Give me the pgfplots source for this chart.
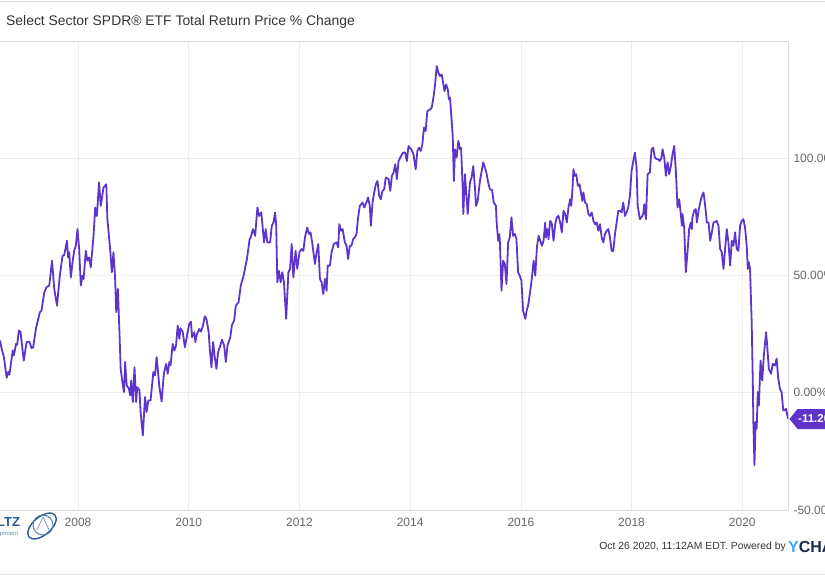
\documentclass[border=0pt]{standalone}
\usepackage{pgfplots}
\pgfplotsset{compat=1.18}
\usepackage{pgfplotstable}
\usetikzlibrary{calc}
\usepackage{fontspec}
\setmainfont{Liberation Sans}
\definecolor{lineP}{HTML}{5D35CC}
\definecolor{tickgray}{HTML}{666666}
\definecolor{titlegray}{HTML}{333333}
\definecolor{borderg}{HTML}{DADADA}
\definecolor{gridg}{HTML}{EDEDED}
\definecolor{ycblue}{HTML}{3FA9F5}
\definecolor{ycnavy}{HTML}{1B2A4A}
\definecolor{logoblue}{HTML}{2B5C98}

\pgfplotstableread{
x y
2006.59 22.3
2006.62 18.7
2006.66 15.3
2006.71 6.4
2006.74 8.9
2006.76 7.7
2006.82 18.0
2006.84 15.9
2006.88 20.8
2006.90 20.4
2006.93 26.5
2006.96 26.0
2007.02 13.7
2007.07 21.6
2007.12 21.8
2007.16 19.0
2007.19 19.4
2007.24 27.5
2007.31 34.3
2007.34 35.0
2007.39 42.8
2007.43 45.0
2007.48 45.7
2007.53 56.3
2007.57 44.3
2007.62 37.1
2007.67 49.9
2007.72 58.4
2007.75 58.7
2007.80 64.8
2007.82 57.7
2007.84 59.9
2007.87 49.2
2007.90 55.6
2007.93 60.5
2007.96 62.7
2007.99 69.8
2008.02 61.3
2008.05 45.7
2008.08 49.9
2008.10 48.5
2008.14 60.5
2008.17 56.3
2008.20 57.7
2008.23 53.5
2008.28 66.9
2008.31 79.0
2008.34 75.4
2008.38 89.7
2008.41 79.7
2008.46 87.5
2008.51 88.9
2008.53 74.0
2008.58 61.3
2008.61 51.4
2008.64 59.9
2008.67 48.5
2008.69 34.3
2008.72 44.3
2008.75 24.4
2008.77 10.2
2008.81 3.1
2008.83 0.3
2008.85 13.1
2008.88 3.1
2008.92 1.7
2008.94 -1.1
2008.96 5.2
2008.99 -4.0
2009.02 10.9
2009.05 -4.0
2009.07 2.4
2009.11 1.0
2009.13 -8.2
2009.17 -18.2
2009.21 -1.8
2009.24 -8.2
2009.27 -3.3
2009.31 -3.3
2009.36 8.8
2009.39 7.4
2009.42 15.2
2009.47 2.4
2009.51 -3.7
2009.55 8.1
2009.59 12.3
2009.62 8.1
2009.65 13.1
2009.67 11.6
2009.71 20.8
2009.74 18.0
2009.77 20.1
2009.80 28.6
2009.83 23.0
2009.85 27.5
2009.89 26.1
2009.93 19.4
2009.98 25.8
2010.01 29.4
2010.04 30.3
2010.06 23.7
2010.10 25.8
2010.12 21.6
2010.14 24.4
2010.19 27.2
2010.22 26.1
2010.25 28.0
2010.29 32.6
2010.32 31.5
2010.36 25.8
2010.38 18.7
2010.41 10.9
2010.44 21.6
2010.47 15.2
2010.50 10.2
2010.53 17.3
2010.56 19.4
2010.60 22.6
2010.64 20.1
2010.67 13.1
2010.70 20.1
2010.75 23.7
2010.78 28.9
2010.82 30.8
2010.85 37.1
2010.90 38.6
2010.94 45.7
2010.99 49.9
2011.05 57.0
2011.08 62.0
2011.10 65.5
2011.12 66.2
2011.16 69.8
2011.20 66.9
2011.24 79.0
2011.27 75.4
2011.31 76.9
2011.33 71.9
2011.36 64.1
2011.39 69.8
2011.42 64.1
2011.47 64.1
2011.50 71.2
2011.53 72.6
2011.56 76.9
2011.58 71.2
2011.60 47.1
2011.63 52.0
2011.66 47.1
2011.69 51.4
2011.72 47.1
2011.76 31.5
2011.80 51.4
2011.83 52.8
2011.86 63.4
2011.89 49.2
2011.93 60.5
2011.96 52.8
2012.00 59.9
2012.04 61.3
2012.07 60.5
2012.10 66.2
2012.14 70.5
2012.17 67.7
2012.20 68.4
2012.23 64.1
2012.28 54.9
2012.31 59.9
2012.34 63.4
2012.37 48.5
2012.40 47.1
2012.43 42.1
2012.46 48.5
2012.49 43.5
2012.51 54.2
2012.55 54.2
2012.58 59.9
2012.62 63.4
2012.67 64.1
2012.70 62.0
2012.72 71.9
2012.75 69.1
2012.78 69.8
2012.82 64.1
2012.85 62.7
2012.88 57.0
2012.91 62.7
2012.94 62.7
2012.97 65.5
2013.00 66.2
2013.03 67.7
2013.06 74.8
2013.09 79.7
2013.14 81.1
2013.17 79.0
2013.22 81.8
2013.24 83.3
2013.27 79.7
2013.29 71.2
2013.32 81.1
2013.35 85.4
2013.38 88.9
2013.41 90.3
2013.44 84.0
2013.47 82.5
2013.50 86.1
2013.53 86.8
2013.56 91.8
2013.61 91.1
2013.64 86.1
2013.67 92.5
2013.70 93.9
2013.73 97.4
2013.76 91.1
2013.79 98.8
2013.82 100.3
2013.87 102.4
2013.91 102.4
2013.94 98.8
2013.97 105.2
2014.02 103.8
2014.06 101.7
2014.10 95.3
2014.13 103.1
2014.16 104.5
2014.19 103.1
2014.22 105.9
2014.25 113.1
2014.28 111.6
2014.31 120.1
2014.36 120.8
2014.39 121.6
2014.42 125.8
2014.45 131.5
2014.48 139.3
2014.51 136.5
2014.54 135.0
2014.57 135.7
2014.60 131.5
2014.62 128.6
2014.65 131.5
2014.68 129.4
2014.70 125.1
2014.72 125.8
2014.75 115.9
2014.77 108.8
2014.79 90.3
2014.81 103.8
2014.84 100.3
2014.87 107.4
2014.90 103.8
2014.92 104.5
2014.95 86.1
2014.96 76.2
2014.99 93.2
2015.04 76.2
2015.08 89.7
2015.11 91.8
2015.14 96.7
2015.17 87.5
2015.19 79.7
2015.22 81.8
2015.26 90.3
2015.32 98.2
2015.37 94.6
2015.41 89.7
2015.44 86.8
2015.48 86.4
2015.51 81.1
2015.55 79.7
2015.56 73.3
2015.59 64.8
2015.61 67.7
2015.62 64.8
2015.65 43.5
2015.68 56.3
2015.71 54.9
2015.74 46.4
2015.77 64.1
2015.80 66.2
2015.83 74.8
2015.86 66.9
2015.89 67.7
2015.92 65.5
2015.95 51.4
2015.98 49.9
2016.01 47.8
2016.04 35.0
2016.08 31.5
2016.11 35.7
2016.13 37.1
2016.17 43.5
2016.20 49.2
2016.23 56.3
2016.26 49.9
2016.29 62.0
2016.32 66.9
2016.35 64.8
2016.38 62.7
2016.41 64.8
2016.44 72.6
2016.45 66.2
2016.48 69.8
2016.50 65.5
2016.53 73.3
2016.56 71.9
2016.59 64.8
2016.62 71.9
2016.65 74.8
2016.68 75.4
2016.71 72.6
2016.74 68.4
2016.77 77.6
2016.80 76.2
2016.83 72.6
2016.86 79.0
2016.89 82.5
2016.91 79.7
2016.93 86.1
2016.95 95.3
2016.97 92.5
2017.00 93.2
2017.03 88.2
2017.06 88.9
2017.08 86.1
2017.11 81.8
2017.13 85.4
2017.16 81.1
2017.19 80.4
2017.22 76.2
2017.25 75.4
2017.28 76.9
2017.31 73.3
2017.34 71.9
2017.37 72.6
2017.40 69.1
2017.43 71.9
2017.46 66.2
2017.49 64.1
2017.52 67.7
2017.55 69.1
2017.58 69.8
2017.61 66.2
2017.64 60.5
2017.67 60.5
2017.70 67.7
2017.73 72.6
2017.76 77.6
2017.79 77.6
2017.82 76.9
2017.85 81.1
2017.88 75.4
2017.91 76.9
2017.94 79.0
2017.97 84.0
2018.00 94.6
2018.03 98.8
2018.06 102.4
2018.09 96.0
2018.11 79.7
2018.15 74.0
2018.18 74.8
2018.21 76.2
2018.23 80.4
2018.26 74.0
2018.29 93.2
2018.33 93.9
2018.36 103.8
2018.39 104.5
2018.42 100.3
2018.45 99.6
2018.48 99.6
2018.51 98.8
2018.54 100.3
2018.56 103.8
2018.59 100.3
2018.62 92.5
2018.65 98.2
2018.68 93.2
2018.71 96.7
2018.74 101.7
2018.77 105.2
2018.80 94.6
2018.83 79.0
2018.86 82.5
2018.88 78.3
2018.91 71.2
2018.92 76.2
2018.95 70.5
2018.98 51.4
2019.01 59.9
2019.04 69.8
2019.07 72.6
2019.09 69.8
2019.10 74.8
2019.13 77.6
2019.16 78.3
2019.18 72.6
2019.21 77.6
2019.24 81.1
2019.27 84.0
2019.30 85.4
2019.33 79.7
2019.36 72.6
2019.39 72.6
2019.42 64.8
2019.45 68.4
2019.48 72.6
2019.54 73.3
2019.57 71.2
2019.60 61.3
2019.63 59.9
2019.66 52.8
2019.69 61.3
2019.72 69.8
2019.75 64.1
2019.78 54.2
2019.81 64.8
2019.84 62.7
2019.87 68.4
2019.90 61.3
2019.93 60.5
2019.96 71.2
2019.99 73.3
2020.02 74.0
2020.05 70.5
2020.08 62.7
2020.10 52.8
2020.12 55.6
2020.14 52.8
2020.17 30.1
2020.19 4.6
2020.20 -12.5
2020.22 -30.9
2020.24 -12.5
2020.26 -15.3
2020.28 0.3
2020.30 -5.4
2020.33 13.7
2020.36 5.2
2020.39 15.9
2020.43 25.8
2020.45 20.1
2020.48 10.2
2020.52 8.1
2020.55 12.3
2020.59 11.6
2020.62 14.5
2020.65 6.0
2020.68 1.7
2020.71 0.3
2020.74 -7.5
2020.77 -7.5
2020.79 -6.8
2020.826 -11.2
}\datatable

\begin{document}
\begin{tikzpicture}[x=1pt,y=1pt]
\path[use as bounding box] (0,0) rectangle (825,575);
% top and bottom page rules
\draw[borderg!70, line width=0.8pt] (0,574) -- (825,574);
\draw[borderg!70, line width=0.8pt] (0,1) -- (825,1);
% title
\node[anchor=west, text=titlegray, inner sep=0pt] at (6,553)
  {\fontsize{13.9}{16}\selectfont Select Sector SPDR® ETF Total Return Price \% Change};

\begin{axis}[
  at={(0pt,65pt)}, anchor=south west,
  width=788pt, height=469pt, scale only axis,
  xmin=2006.59, xmax=2020.826, ymin=-50, ymax=150,
  axis x line*=bottom, axis y line*=right,
  axis line style={draw=borderg, line width=0.8pt},
  xtick={2008,2010,2012,2014,2016,2018,2020},
  xticklabels={2008,2010,2012,2014,2016,2018,2020},
  ytick={-50,0,50,100},
  yticklabels={-50.00\%,0.00\%,50.00\%,100.00\%},
  grid=major,
  major grid style={draw=gridg, line width=0.7pt},
  major tick length=0pt,
  x tick label style={font=\fontsize{12}{13}\selectfont, text=tickgray, yshift=-5pt},
  y tick label style={font=\fontsize{12}{13}\selectfont, text=tickgray, anchor=west, xshift=2pt},
]
\addplot[lineP, line width=1.8pt, line join=round, mark=none] table[x=x,y=y] {\datatable};
\coordinate (tagpt) at (axis cs:2020.826,-11.2);
\end{axis}
% top border of plot area
\draw[borderg, line width=0.8pt] (0,534) -- (788,534);
% value tag
\fill[lineP] ($(tagpt)+(1.5,0)$) -- ++(8,10) -- ++(40,0) -- ++(0,-20) -- ++(-40,0) -- cycle;
\node[anchor=west, text=white, inner sep=0pt] at ($(tagpt)+(10,0)$)
  {\fontsize{11.5}{12}\selectfont\bfseries -11.20\%};
% footer
\node[anchor=east, text=titlegray, inner sep=0pt] at (786,28)
  {\fontsize{10.4}{12}\selectfont Oct 26 2020, 11:12AM EDT. Powered by};
\node[anchor=west, inner sep=0pt] at (788,28)
  {\fontsize{16}{18}\selectfont\bfseries\textcolor{ycblue}{Y}\textcolor{ycnavy}{CHARTS}};
% left logo
\node[anchor=west, text=logoblue, inner sep=0pt] at (-3,53)
  {\fontsize{13}{14}\selectfont\bfseries LTZ};
\node[anchor=west, text=logoblue!70, inner sep=0pt] at (-2,41)
  {\fontsize{6}{7}\selectfont gement};
\draw[logoblue, line width=1.4pt, rotate around={40:(42,49)}] (42,49) ellipse (17 and 9);
\draw[logoblue!80, line width=1pt] (43,50) circle (10);
\draw[logoblue!60, line width=0.8pt] (37,45) -- (43,58) -- (49,45);
\end{tikzpicture}
\end{document}
